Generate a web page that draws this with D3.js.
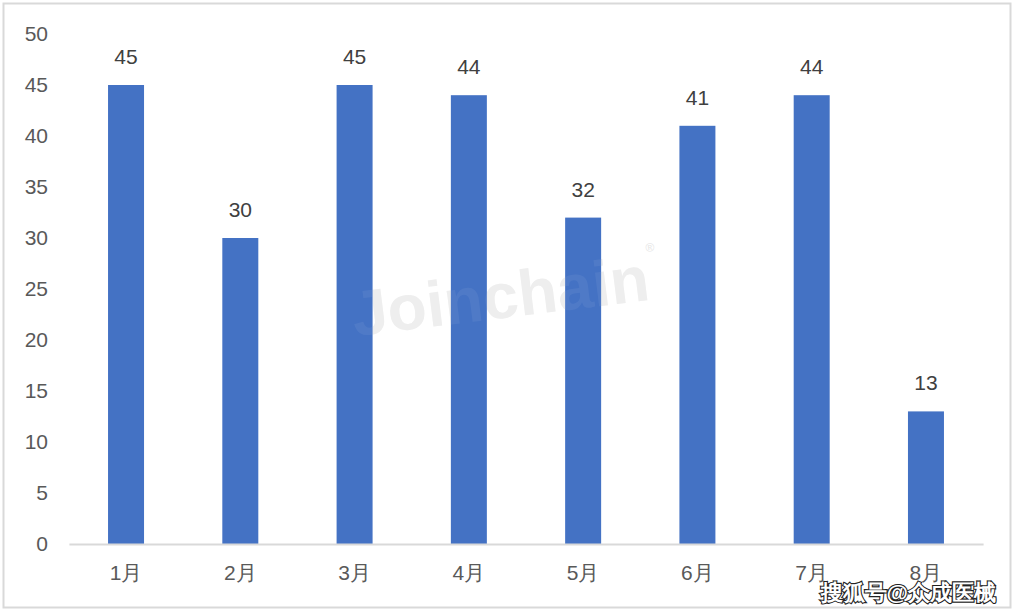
<!DOCTYPE html>
<html><head><meta charset="utf-8">
<script src="https://cdn.jsdelivr.net/npm/d3@7"></script>
<style>body{margin:0;background:#fff;} text{font-family:"Liberation Sans","DejaVu Sans",sans-serif;}</style>
</head><body>
<svg id="c" width="1017" height="613"></svg>
<script>
const categories = ["1月","2月","3月","4月","5月","6月","7月","8月"];
const values = [45,30,45,44,32,41,44,13];
const yTicks = [0,5,10,15,20,25,30,35,40,45,50];

const svg = d3.select("#c");
svg.append("rect").attr("x",3.5).attr("y",3.5).attr("width",1007).attr("height",604)
  .attr("fill","#fff").attr("stroke","#d9d9d9").attr("stroke-width",2);

const x = d3.scaleBand().domain(categories).range([68.9,983.1]).paddingInner(0.685).paddingOuter(0.3425);
const y = d3.scaleLinear().domain([0,50]).range([544,34]);

// watermark
const wm = svg.append("g").attr("transform","translate(503,318) rotate(-7)");
wm.append("text").attr("text-anchor","middle").attr("font-size",64).attr("font-weight","bold")
  .attr("fill","#ededed").attr("font-family","'DejaVu Sans',sans-serif").text("Joinchain");
wm.append("text").attr("x",150).attr("y",-48).attr("font-size",12).attr("fill","#e6e6e6").text("®");

// y axis labels
const ya = svg.append("g").attr("transform","translate(48,0)")
  .call(d3.axisLeft(y).tickValues(yTicks).tickSize(0).tickPadding(0));
ya.select(".domain").remove();
ya.selectAll("text").attr("font-size",21).attr("fill","#595959").attr("font-family","'Liberation Sans',sans-serif");

// bars
svg.append("g").selectAll("rect").data(values).join("rect")
  .attr("x",(d,i)=>x(categories[i])).attr("width",x.bandwidth())
  .attr("y",d=>y(d)).attr("height",d=>y(0)-y(d)).attr("fill","#4472c4");

// faint watermark overlay on bars
const wm2 = svg.append("g").attr("transform","translate(503,318) rotate(-7)").attr("opacity",0.06);
wm2.append("text").attr("text-anchor","middle").attr("font-size",64).attr("font-weight","bold")
  .attr("fill","#ffffff").attr("font-family","'DejaVu Sans',sans-serif").text("Joinchain");

// x axis
const xa = svg.append("g").attr("transform","translate(0,544)")
  .call(d3.axisBottom(x).tickSize(0).tickPadding(21));
xa.select(".domain").attr("stroke","#d9d9d9").attr("stroke-width",2);
xa.selectAll("text").attr("font-size",21).attr("fill","#595959")
  .attr("font-family","'Liberation Sans','Noto Sans CJK SC',sans-serif");

// data labels
svg.append("g").selectAll("text").data(values).join("text")
  .attr("x",(d,i)=>x(categories[i])+x.bandwidth()/2).attr("y",d=>y(d)-21)
  .attr("text-anchor","middle").attr("font-size",21).attr("fill","#404040").text(d=>d);

// source tag
svg.append("text").attr("x",996).attr("y",600).attr("text-anchor","end")
  .attr("font-size",22).attr("font-weight","bold").attr("fill","#fff")
  .attr("stroke","#222").attr("stroke-width",2.2).attr("paint-order","stroke")
  .attr("font-family","'Noto Sans CJK SC',sans-serif").text("搜狐号@众成医械");
</script>
</body></html>
